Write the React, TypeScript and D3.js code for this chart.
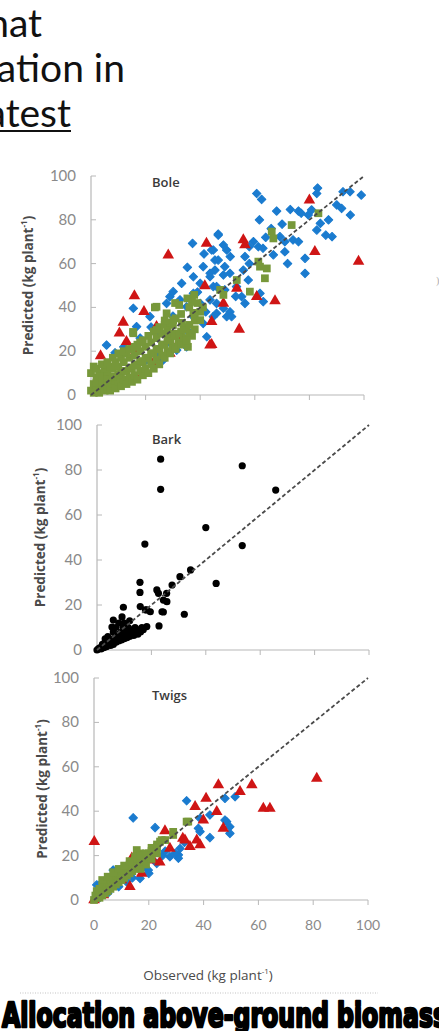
import React from "react";
import * as d3 from "d3";

type Pt = [number, number];

const boleBlue: Pt[] = [
  [60.7, 92], [62.5, 89.3], [83, 94.5], [82.7, 92], [92.3, 92.8], [94.9, 92.8], [99, 91.3],
  [90, 86.8], [91.8, 85.2], [95, 82.2], [68, 84], [73, 84.7], [76, 84], [77, 83], [80.8, 84.5],
  [79.6, 82.2], [61.7, 80], [66, 76], [46.6, 73.5], [82.7, 75.3], [84, 78.4], [86, 73], [88.3, 72.3],
  [69.2, 72.3], [71, 70], [74, 70.8], [76, 70], [59.5, 70], [61.3, 67.7], [63, 67], [48.5, 68.5],
  [44.2, 66.2], [49.7, 66.2], [66.8, 64], [71, 65.4], [78.4, 62.4], [78.4, 55.5], [46.6, 61.6],
  [49, 58.6], [51, 63.2], [56.4, 63.2], [58, 67.7], [43.6, 54], [45.4, 57], [48.5, 54.8], [50.9, 55.6],
  [55.8, 57], [57.6, 52.5], [44.8, 49.5], [49, 48], [53.3, 49.5], [55.2, 44.9], [56.4, 41.8],
  [61.9, 46.4], [63.1, 42.6], [46, 41.8], [48.5, 39.6], [50.9, 38], [44.8, 35.8], [49.7, 35.8],
  [51.5, 35.8], [37.2, 69.2], [35.3, 58.3], [41.1, 58.6], [41.4, 64.4], [46.6, 73], [28.9, 44.9],
  [32.6, 43.4], [15.5, 39.6], [21.6, 35.8], [16.7, 31.2], [5.7, 22.8], [8.8, 19.3], [26.5, 16],
  [37.5, 54], [40, 51], [43.6, 55.6], [46, 49.5], [37.5, 46.4], [35, 40.3], [40, 41.8], [43.6, 43.4],
  [46, 37.3], [37.5, 35.8], [41.1, 32.7], [35, 29.7], [42.4, 26.6], [24, 28.2], [27.7, 23.6],
  [31.4, 20.5], [44.8, 66.2], [45.4, 61.6], [30.1, 47.2], [33.2, 51], [27.7, 41.8], [24, 19],
  [20.4, 16], [35, 22], [12, 22], [18, 26], [22, 31], [30, 36], [39, 47], [42, 38], [53, 45],
  [58, 60], [64, 72], [70, 78], [87, 80], [72, 60],
];

const boleRed: Pt[] = [
  [80, 89], [55.8, 70.8], [56.4, 68.5], [82, 65.4], [98, 61], [53.4, 48.7], [60.7, 44.9], [67.4, 43],
  [48.5, 41.8], [44.2, 33.5], [54.3, 30], [44.2, 23], [28.3, 63.9], [42.3, 69.2], [41.7, 49.8],
  [15.9, 45.2], [19.4, 38], [11.8, 33.2], [10.4, 28.2], [24, 31.2], [13, 24.3], [16.1, 20.5],
  [3.5, 17.8], [43.6, 22.8], [28.9, 19], [32.6, 25], [19.2, 10.2], [22.8, 14.5],
];

const boleGreen: Pt[] = [
  [0, 2], [0, 10], [1, 1], [1, 5], [2, 3], [2, 8], [3, 1], [3, 5], [4, 3], [4, 9], [5, 2], [5, 6],
  [6, 4], [6, 10], [7, 2], [7, 7], [8, 5], [8, 12], [9, 3], [9, 8], [10, 6], [10, 13], [11, 4],
  [11, 10], [12, 7], [12, 15], [13, 5], [13, 11], [14, 8], [14, 17], [15, 6], [15, 12], [16, 9],
  [16, 18], [17, 7], [17, 14], [18, 11], [18, 20], [19, 9], [19, 15], [20, 12], [20, 22], [21, 10],
  [21, 17], [22, 14], [22, 24], [23, 12], [23, 19], [24, 16], [24, 26], [25, 14], [25, 21], [26, 18],
  [26, 28], [27, 17], [27, 23], [28, 20], [28, 30], [29, 19], [29, 25], [30, 22], [30, 32], [31, 21],
  [31, 27], [32, 24], [33, 23], [33, 29], [34, 26], [35, 24], [35, 31], [36, 28], [37, 27], [38, 30],
  [2, 5.5], [4, 6], [6, 7], [8, 8.5], [10, 9.5], [12, 11], [14, 12.5], [16, 13.5], [18, 15.5],
  [20, 17], [22, 19], [24, 21], [26, 23], [28, 25], [30, 27], [32, 28], [34, 30], [36, 32], [38, 34],
  [3, 10], [5, 12], [7, 13], [9, 15], [11, 17], [13, 19], [15, 21], [17, 23], [19, 25], [21, 27],
  [23, 29], [25, 31], [27, 32], [29, 33], [31, 35], [33, 37], [36, 40], [39, 42], [41, 40], [40, 38],
  [1, 13], [2, 12], [4, 14], [6, 15], [8, 17], [10, 19], [12, 20], [14, 21], [16, 22], [18, 24],
  [23.4, 40], [30.8, 42], [37, 42.5], [38, 37.5], [33.3, 33], [27, 34], [29.7, 28], [15.4, 28.8],
  [35.5, 22], [24, 40.3], [32.3, 41.1], [35.3, 44.1], [37.8, 45.7], [27.7, 37.3], [30.1, 34.2],
  [37.5, 37.3], [40, 34.2], [24, 29.7], [27.7, 28.2], [15.5, 28.2], [35, 25], [73.5, 77.6],
  [83.3, 83], [66.2, 74.6], [66.8, 71.5], [61.3, 60.9], [61.9, 58.6], [64.4, 57.8], [63.7, 53.3],
  [53.4, 52.5], [58.2, 47.2], [47.3, 48], [48.5, 45.7],
];

const barkBlack: Pt[] = [
  [23.4, 84.8], [23.4, 71.4], [17.6, 47.1], [40, 54.4], [43.8, 29.6], [15.8, 30.1], [15.8, 25.6],
  [32.1, 15.9], [22.8, 10.7], [9.7, 19], [24.4, 16.9], [30.5, 32.6], [34.4, 35.6], [25.6, 25.2],
  [24.4, 22.2], [22, 26.7], [18.3, 17.8], [53.4, 81.9], [65.7, 71.1], [53.4, 46.4], [22.6, 25.2],
  [25.7, 21.5], [15.9, 19.3], [17.8, 17.8], [19.6, 17], [23.9, 17], [27.6, 28.9], [0, 0],
  [0.5, 0.5], [1, 1], [1.5, 0.5], [2, 1.5], [2, 2.5], [2.5, 1], [3, 2], [3, 3.5], [3.5, 1.5], [4, 2.5],
  [4, 4], [4.5, 3], [5, 2], [5, 4.5], [5.5, 3.5], [6, 5], [6, 2.5], [6.5, 4], [7, 6], [7, 3.5], [7.5, 5],
  [8, 7], [8, 4], [8.5, 5.5], [9, 8], [9, 4.5], [9.5, 6.5], [10, 5], [10, 9], [10.5, 7], [11, 5.5],
  [11, 8], [11.5, 10], [12, 6], [12, 8.5], [12.5, 7], [13, 9], [13.5, 6.5], [14, 8], [14, 10], [15, 7],
  [15, 9], [16, 8], [16.5, 10], [17, 9], [18.3, 10.4], [5.5, 10.2], [9.2, 14.7], [8, 12], [7, 10],
  [10, 12], [12, 13], [6, 8], [4, 6], [3, 5], [6, 13.3], [9.6, 10.2],
];

const twigsBlue: Pt[] = [
  [1, 6.8], [7, 13.5], [14.3, 37], [33.8, 44.7], [22.3, 32.6], [42.3, 28.1], [38.7, 30.8], [30.8, 20.3],
  [38.1, 32.3], [48.4, 35.3], [49.6, 33], [47.8, 45.8], [51.5, 46.5], [38.7, 36.8], [31.4, 23.2],
  [29.6, 21], [30.8, 18.8], [19.8, 13.5], [22.9, 16.5], [27.7, 19.5], [11.9, 8.2], [16.8, 9.7],
  [42.3, 38.3], [47.8, 36], [49.6, 30], [25, 20], [20, 12], [14, 10], [9, 6], [5, 3], [2, 1], [3, 8],
  [18, 15], [26, 22], [33, 26],
];

const twigsRed: Pt[] = [
  [0.1, 26.3], [40.9, 45.8], [45.4, 51.8], [36.9, 42], [33.2, 27], [35, 24], [38.7, 24.8], [25.9, 31.1],
  [32.4, 27.7], [37.5, 27], [47.2, 32.3], [44.8, 39.8], [39.9, 36], [57.6, 51.8], [53.3, 48.8],
  [61.8, 41.3], [64.2, 41.3], [81.3, 54.8], [27.7, 23.2], [13.8, 18.8], [17.4, 12], [21.6, 18],
  [13.1, 6], [3.4, 2.3], [0, 0], [24, 17], [10, 9],
];

const twigsGreen: Pt[] = [
  [0, 0], [0.5, 2], [1, 1], [1, 4], [1.5, 2.5], [2, 1], [2, 5], [2.5, 3], [3, 2], [3, 6], [3.5, 4], [4, 3],
  [4, 7], [4.5, 5], [5, 4], [5, 8], [5.5, 6], [6, 5], [6, 9], [6.5, 7], [7, 6], [7, 10], [7.5, 8], [8, 7],
  [8, 11], [8.5, 9], [9, 8], [9, 12], [9.5, 10], [10, 9], [10, 13], [10.5, 11], [11, 10], [11, 14],
  [11.5, 12], [12, 11], [12, 15], [12.5, 13], [13, 12], [13, 16], [14, 13], [14, 17], [15, 14], [15, 18],
  [16, 15], [16, 19], [16.8, 21], [17, 17], [18, 18], [18.5, 20], [19, 19], [20, 21], [21, 22], [22, 23],
  [23, 24], [24.7, 27], [24.1, 26.3], [26, 27], [28.9, 29.3], [28.9, 30.7], [33.8, 35.3], [34.4, 35.3],
  [15.6, 22.5], [3, 9], [5, 10.5], [7, 12.5], [9, 14], [11, 15.5], [13, 17.5], [15, 19.5], [17, 20],
  [19, 21], [21, 23.5], [23, 25], [17, 14], [19, 16], [21, 18.5], [23, 21],
];

const axisTicks = [0, 20, 40, 60, 80, 100];
const topLines = ["hat", "ation in", "atest"];

const BLUE = "#1a7bcf";
const RED = "#cf1515";
const GREEN = "#77983a";

const triPath = d3.symbol(d3.symbolTriangle, 58)() as string;
const diaPath = d3.symbol(d3.symbolSquare, 36)() as string;
const sqPath = d3.symbol(d3.symbolSquare, 60)() as string;

type Series = { pts: Pt[]; kind: "dia" | "tri" | "sq" | "dot" };

function Panel(props: {
  x0: number; x1: number; yb: number; yt: number;
  title: string; titleY: number; labelX: number;
  series: Series[]; xLabels?: boolean;
}) {
  const { x0, x1, yb, yt, title, titleY, labelX, series, xLabels } = props;
  const x = d3.scaleLinear().domain([0, 100]).range([x0, x1]);
  const y = d3.scaleLinear().domain([0, 100]).range([yb, yt]);
  const line = d3.line<number>().x(d => x(d)).y(d => y(d));
  const axisCol = "#b8b8b8";
  const midY = (yb + yt) / 2;
  return (
    <g>
      <line x1={x0} x2={x0} y1={yb} y2={yt} stroke={axisCol} strokeWidth={1.2} />
      <line x1={x0} x2={x1} y1={yb} y2={yb} stroke={axisCol} strokeWidth={1.2} />
      {axisTicks.map(t => (
        <g key={"y" + t}>
          <line x1={x0} x2={x0 + 5} y1={y(t)} y2={y(t)} stroke={axisCol} />
          <text x={x0 - 15} y={y(t) + 5} textAnchor="end" fontSize={15} fill="#8a8a8a"
            fontFamily="Lato, 'Open Sans', sans-serif">{t}</text>
        </g>
      ))}
      {axisTicks.slice(1).map(t => (
        <line key={"x" + t} x1={x(t)} x2={x(t)} y1={yb} y2={yb + 5} stroke={axisCol} />
      ))}
      {xLabels && axisTicks.map(t => (
        <text key={"xl" + t} x={x(t)} y={yb + 30} textAnchor="middle" fontSize={14} fill="#8a8a8a"
          fontFamily="Lato, 'Open Sans', sans-serif">{t}</text>
      ))}
      <text x={152} y={titleY} fontSize={13} fontWeight={600} fill="#3a3a3a"
        fontFamily="'Open Sans', sans-serif">{title}</text>
      <text transform={`translate(${labelX},${midY}) rotate(-90)`} textAnchor="middle" fontSize={13.5}
        fontWeight={700} fill="#4a4a4a" fontFamily="'Open Sans', sans-serif">
        Predicted (kg plant<tspan fontSize={8} dy={-6}>-1</tspan><tspan dy={6}>)</tspan>
      </text>
      {series.map((s, i) => (
        <g key={i}>
          {s.pts.map((p, j) =>
            s.kind === "dot" ? (
              <circle key={j} cx={x(p[0])} cy={y(p[1])} r={3.6} fill="#000" />
            ) : (
              <path key={j}
                transform={`translate(${x(p[0])},${y(p[1])})${s.kind === "dia" ? " rotate(45)" : ""}`}
                d={s.kind === "tri" ? triPath : s.kind === "sq" ? sqPath : diaPath}
                fill={s.kind === "tri" ? RED : s.kind === "sq" ? GREEN : BLUE}
                stroke={s.kind === "dia" ? BLUE : "none"} strokeWidth={1} strokeLinejoin="round" />
            )
          )}
        </g>
      ))}
      <path d={line([0, 100]) as string} stroke="#4a4a4a" strokeWidth={1.8} strokeDasharray="4,2.5" fill="none" />
    </g>
  );
}

export default function App() {
  return (
    <svg width={439} height={1031} style={{ position: "absolute", left: 0, top: 0 }}>
      <rect width={439} height={1031} fill="#fff" />
      {topLines.map((t, i) => (
        <text key={t} x={[42, 125, 71][i]} y={37 + i * 45} textAnchor="end" fontSize={39}
          fill="#111" fontFamily="Lato, 'Open Sans', sans-serif">{t}</text>
      ))}
      <line x1={0} x2={71} y1={131} y2={131} stroke="#111" strokeWidth={2.2} />
      <Panel x0={91} x1={364} yb={395} yt={176} title="Bole" titleY={187} labelX={33}
        series={[{ pts: boleBlue, kind: "dia" }, { pts: boleRed, kind: "tri" }, { pts: boleGreen, kind: "sq" }]} />
      <Panel x0={97} x1={369} yb={650} yt={425} title="Bark" titleY={444} labelX={45}
        series={[{ pts: barkBlack, kind: "dot" }]} />
      <Panel x0={94} x1={368} yb={900} yt={678} title="Twigs" titleY={700} labelX={47} xLabels
        series={[{ pts: twigsBlue, kind: "dia" }, { pts: twigsRed, kind: "tri" }, { pts: twigsGreen, kind: "sq" }]} />
      <text x={208} y={980} textAnchor="middle" fontSize={13.5} fill="#4a4a4a"
        fontFamily="'Open Sans', sans-serif">
        Observed (kg plant<tspan fontSize={8} dy={-6}>-1</tspan><tspan dy={6}>)</tspan>
      </text>
      <text x={436} y={284} fontSize={10} fill="#aaa">)</text>
      <line x1={20} x2={378} y1={993} y2={993} stroke="#d8d8d8" strokeWidth={1.5} strokeDasharray="1,1.5" />
      <text x={2} y={1027} fontSize={33} fontWeight={900} fill="#000" stroke="#000" strokeWidth={2.6}
        strokeLinejoin="round" textLength={445} lengthAdjust="spacingAndGlyphs"
        fontFamily="'DejaVu Sans', sans-serif">
        Allocation above-ground biomass
      </text>
    </svg>
  );
}
